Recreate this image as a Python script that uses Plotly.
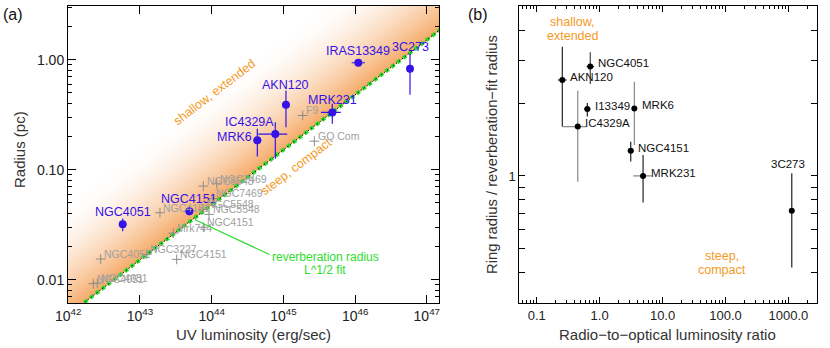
import numpy as np
import plotly.graph_objects as go

# ---------------- Panel (a): ring radius vs UV luminosity ----------------
a_names = ["NGC4051", "NGC4151", "MRK6", "IC4329A", "AKN120", "MRK231", "IRAS13349", "3C273"]
a_lum = [5.74e42, 4.88e43, 4.33e44, 7.71e44, 1.086e45, 4.81e45, 1.109e46, 5.83e46]
a_lum_lo = [5.21e42, 4.22e43, 3.80e44, 4.47e44, 9.86e44, 3.34e45, 8.95e45, 5.47e46]
a_lum_hi = [6.32e42, 5.62e43, 4.92e44, 1.13e45, 1.197e45, 6.30e45, 1.375e46, 6.22e46]
a_rad = [0.0320, 0.042, 0.185, 0.211, 0.39, 0.332, 0.94, 0.83]
a_rad_lo = [0.0275, 0.0385, 0.132, 0.126, 0.244, 0.262, 0.91, 0.481]
a_rad_hi = [0.0361, 0.046, 0.236, 0.271, 0.526, 0.398, 0.97, 1.134]

# reverberation radii (grey crosses)
rv_names = ["NGC5548", "NGC7469", "NGC7469", "NGC4151", "NGC5548", "NGC5548", "NGC4151",
            "Mrk744", "NGC3227", "NGC4051", "NGC4151", "NGC4051", "NGC4051", "F9", "GQ Com"]
rv_lum = [7.64e43, 1.175e44, 1.042e44, 1.90e43, 7.57e43, 9.18e43, 7.64e43,
          2.91e43, 1.24e43, 2.83e42, 3.25e43, 2.23e42, 2.54e42, 1.86e45, 2.70e45]
rv_rad = [0.0710, 0.0746, 0.0548, 0.0406, 0.0436, 0.0393, 0.0300,
          0.0265, 0.0170, 0.0154, 0.0153, 0.0092, 0.0093, 0.3115, 0.182]

# reverberation-radius fit R = norm * (L/1e44)^slope
fit_norm_pc = 0.048
fit_slope = 0.5
fit_lum = [10**41.9, 10**47.4]

a_xticks = [1e42, 1e43, 1e44, 1e45, 1e46, 1e47]
a_xticktext = ["10<sup>42</sup>", "10<sup>43</sup>", "10<sup>44</sup>",
               "10<sup>45</sup>", "10<sup>46</sup>", "10<sup>47</sup>"]
a_yticks = [0.01, 0.1, 1.0]
a_yticktext = ["0.01", "0.10", "1.00"]

# ---------------- Panel (b): ratio vs radio loudness ----------------
b_names = ["AKN120", "NGC4051", "I13349", "MRK6", "IC4329A", "NGC4151", "MRK231", "3C273"]
b_ratio = [0.255, 0.71, 0.637, 3.56, 0.449, 3.12, 4.9, 1132]
b_ratio_lo = [0.2165, 0.621, 0.566, 3.56, 0.255, 2.8, 3.43, 1132]
b_ratio_hi = [0.301, 0.815, 0.719, 3.56, 0.624, 3.5, 6.73, 1132]
b_rel = [2.49, 2.83, 1.89, 1.90, 1.60, 1.27, 1.00, 0.719]
b_rel_lo = [1.60, 2.40, 1.76, 1.343, 0.947, 1.146, 0.776, 0.419]
b_rel_hi = [3.42, 3.24, 2.00, 2.45, 2.25, 1.386, 1.22, 1.026]
b_xerr_col = ["#222", "#222", "#222", "#888", "#888", "#222", "#888", "#222"]
b_yerr_col = ["#222", "#444", "#222", "#888", "#888", "#222", "#222", "#222"]

b_xticks = [0.1, 1, 10, 100, 1000]
b_xticktext = ["0.1", "1.0", "10.0", "100.0", "1000.0"]
b_yticks = [0.4, 0.5, 0.6, 0.7, 0.8, 0.9, 1, 2, 3, 4]
b_yticktext = ["", "", "", "", "", "", "1", "", "", ""]

FONT = "Liberation Sans, Arial, Helvetica, sans-serif"
BLUE = "#3512E8"
ORANGE = "#F39A1E"
GREEN = "#2EDC2E"
GREY = "#A0A0A0"

fig = go.Figure()

# orange gradient band above the fit line (drawn outer->inner, overlapping, no seams)
def fitR(L):
    return fit_norm_pc * (np.asarray(L) / 1e44) ** fit_slope

nstr = 40
depth = 1.05
c0 = np.array([246, 170, 104])
c1 = np.array([255, 255, 255])
L0, L1 = fit_lum
for k in range(nstr, 0, -1):
    d2 = depth * k / nstr
    t = (k - 0.5) / nstr
    w = (1 - t) ** 1.8
    col = c1 + (c0 - c1) * w
    xs = [L0, L1, L1, L0, L0]
    ys = [fitR(L0), fitR(L1), fitR(L1) * 10**d2, fitR(L0) * 10**d2, fitR(L0)]
    fig.add_trace(go.Scatter(x=xs, y=ys, mode="lines", fill="toself",
                             fillcolor="rgb(%d,%d,%d)" % tuple(np.round(col).astype(int)),
                             line=dict(width=0), hoverinfo="skip", showlegend=False,
                             xaxis="x", yaxis="y"))

# fit line: green dots + black dots
fl = np.array(fit_lum)
fig.add_trace(go.Scatter(x=fl, y=fitR(fl), mode="lines",
                         line=dict(color=GREEN, width=4, dash="4px,3.3px"),
                         showlegend=False, hoverinfo="skip", xaxis="x", yaxis="y"))
fig.add_trace(go.Scatter(x=fl, y=fitR(fl), mode="lines",
                         line=dict(color="black", width=1, dash="1.5px,2.2px"),
                         showlegend=False, hoverinfo="skip", xaxis="x", yaxis="y"))

# grey reverberation points
fig.add_trace(go.Scatter(x=rv_lum, y=rv_rad, mode="markers",
                         marker=dict(symbol="cross-thin", size=7, line=dict(color="#8C8C8C", width=1)),
                         showlegend=False, xaxis="x", yaxis="y"))

# blue points
a_lum_a = np.array(a_lum); a_rad_a = np.array(a_rad)
fig.add_trace(go.Scatter(
    x=a_lum, y=a_rad, mode="markers",
    marker=dict(color=BLUE, size=8),
    error_x=dict(type="data", symmetric=False, array=np.array(a_lum_hi) - a_lum_a,
                 arrayminus=a_lum_a - np.array(a_lum_lo), color=BLUE, thickness=1.2, width=0),
    error_y=dict(type="data", symmetric=False, array=np.array(a_rad_hi) - a_rad_a,
                 arrayminus=a_rad_a - np.array(a_rad_lo), color=BLUE, thickness=1.2, width=0),
    showlegend=False, xaxis="x", yaxis="y"))

# panel (b) points
for i in range(len(b_names)):
    fig.add_trace(go.Scatter(
        x=[b_ratio[i]], y=[b_rel[i]], mode="markers",
        marker=dict(color="black", size=6),
        error_x=dict(type="data", symmetric=False, array=[b_ratio_hi[i] - b_ratio[i]],
                     arrayminus=[b_ratio[i] - b_ratio_lo[i]], color=b_xerr_col[i], thickness=1.2, width=0),
        error_y=dict(type="data", symmetric=False, array=[b_rel_hi[i] - b_rel[i]],
                     arrayminus=[b_rel[i] - b_rel_lo[i]], color=b_yerr_col[i], thickness=1.2, width=0),
        showlegend=False, xaxis="x2", yaxis="y2"))

ann = []
# blue labels (offsets in px: xanchor, xshift, yshift)
a_lab_pos = {
    "NGC4051": ("center", 0, 12), "NGC4151": ("center", 0, 12), "MRK6": ("right", -3, 3),
    "IC4329A": ("right", 1, 12), "AKN120": ("center", 0, 20), "MRK231": ("center", 0, 12),
    "IRAS13349": ("center", 0, 12), "3C273": ("center", 0, 22)}
for n, L, R in zip(a_names, a_lum, a_rad):
    xa, xs, ys = a_lab_pos[n]
    ann.append(dict(x=np.log10(L), y=np.log10(R), xref="x", yref="y", text=n, showarrow=False,
                    xanchor=xa, yanchor="middle", xshift=xs, yshift=ys,
                    font=dict(family=FONT, size=12.5, color=BLUE)))
for n, L, R in zip(rv_names, rv_lum, rv_rad):
    ann.append(dict(x=np.log10(L), y=np.log10(R), xref="x", yref="y", text=n, showarrow=False,
                    xanchor="left", yanchor="middle", xshift=1.5, yshift=5,
                    font=dict(family=FONT, size=10.5, color=GREY)))

# band labels
ann.append(dict(x=44.046, y=-0.297, xref="x", yref="y", text="shallow, extended", showarrow=False,
                xanchor="center", yanchor="middle",
                textangle=-37.4, font=dict(family=FONT, size=12.5, color=ORANGE)))
ann.append(dict(x=45.176, y=-0.979, xref="x", yref="y", text="steep, compact", showarrow=False,
                xanchor="center", yanchor="middle",
                textangle=-37.4, font=dict(family=FONT, size=12.5, color=ORANGE)))
# reverberation label + connector
ann.append(dict(x=43.767, y=-1.4545, xref="x", yref="y", text=" ", showarrow=True,
                arrowhead=0, arrowcolor=GREEN, arrowwidth=1.2, ax=77, ay=36, standoff=0,
                font=dict(size=6)))

def ptext(txt, px, py, size, color, angle=0):
    return dict(x=px/830, y=1-py/348, xref="paper", yref="paper", text=txt, showarrow=False,
                xanchor="center", yanchor="middle", textangle=angle,
                font=dict(family=FONT, size=size, color=color))

ann.append(ptext("reverberation radius", 325, 257, 12, GREEN))
ann.append(ptext("L^1/2 fit", 325, 269.5, 12, GREEN))

# panel b labels
for n, X, Y in zip(b_names, b_ratio, b_rel):
    if n == "3C273":
        ann.append(dict(x=np.log10(X), y=np.log10(Y), xref="x2", yref="y2", text=n, showarrow=False,
                        xanchor="center", yanchor="middle", xshift=-3.7, yshift=46.5,
                        font=dict(family=FONT, size=11.5, color="#111")))
    else:
        ann.append(dict(x=np.log10(X), y=np.log10(Y), xref="x2", yref="y2", text=n, showarrow=False,
                        xanchor="left", yanchor="middle", xshift=5.5, yshift=3.3,
                        font=dict(family=FONT, size=11.5, color="#111")))
ann.append(ptext("shallow,", 572, 22, 12.5, ORANGE))
ann.append(ptext("extended", 572, 36, 12.5, ORANGE))
ann.append(ptext("steep,", 722, 256, 12.5, ORANGE))
ann.append(ptext("compact", 722, 269.5, 12.5, ORANGE))

# axis titles and panel letters
TC = "#333"
ann.append(ptext("Radius (pc)", 19, 150, 15, TC, -90))
ann.append(ptext("UV luminosity (erg/sec)", 253, 334, 15, TC))
ann.append(ptext("Ring radius / reverberation\u2212fit radius", 492, 155, 14.8, TC, -90))
ann.append(ptext("Radio\u2212to\u2212optical luminosity ratio", 667, 334, 15, TC))
ann.append(ptext("(a)", 13, 14, 16, "#111"))
ann.append(ptext("(b)", 478, 14, 16, "#111"))

def minor_vals(lo, hi):
    vals = []
    for e in range(int(np.floor(lo)) - 1, int(np.ceil(hi)) + 1):
        for m in range(2, 10):
            v = m * 10.0**e
            if 10**lo < v < 10**hi:
                vals.append(v)
    return vals

ax_common = dict(type="log", showline=True, linecolor="black", linewidth=1, mirror="ticks",
                 ticks="inside", tickcolor="black", showgrid=False, zeroline=False,
                 automargin=False)

a_xr = [41.996, 47.17]
a_yr = [-2.215, 0.494]
b_xr = [-1.277, 3.45]
b_yr = [-0.526, 0.704]

fig.update_layout(
    width=830, height=348, margin=dict(l=0, r=0, t=0, b=0, pad=0), autosize=False,
    paper_bgcolor="white", plot_bgcolor="white", showlegend=False,
    xaxis=dict(**ax_common, domain=[68/830, 439/830], range=a_xr, anchor="y",
               tickfont=dict(family=FONT, size=14, color="#222"),
               tickmode="array", tickvals=a_xticks, ticktext=a_xticktext, ticklen=8),
    yaxis=dict(**ax_common, domain=[1-303.3/348, 1-5.5/348], range=a_yr, anchor="x",
               tickfont=dict(family=FONT, size=14, color="#222"),
               tickmode="array", tickvals=a_yticks, ticktext=a_yticktext, ticklen=8,
               minor=dict(tickmode="array", tickvals=minor_vals(*a_yr), ticks="inside", ticklen=4,
                          tickcolor="black", showgrid=False)),
    xaxis2=dict(**ax_common, domain=[519.3/830, 816.7/830], range=b_xr, anchor="y2",
                tickfont=dict(family=FONT, size=13, color="#222"),
                tickmode="array", tickvals=b_xticks, ticktext=b_xticktext, ticklen=6,
                minor=dict(tickmode="array", tickvals=minor_vals(*b_xr), ticks="inside", ticklen=3,
                           tickcolor="black", showgrid=False)),
    yaxis2=dict(**ax_common, domain=[1-303.3/348, 1-5.5/348], range=b_yr, anchor="x2",
                tickfont=dict(family=FONT, size=13, color="#222"),
                tickmode="array", tickvals=b_yticks, ticktext=b_yticktext, ticklen=6),
    annotations=ann,
)

fig.write_html("out.html", config={"displayModeBar": False},
               post_script="document.body.style.margin='0';document.body.style.padding='0';"
                           "document.body.style.overflow='hidden';")
